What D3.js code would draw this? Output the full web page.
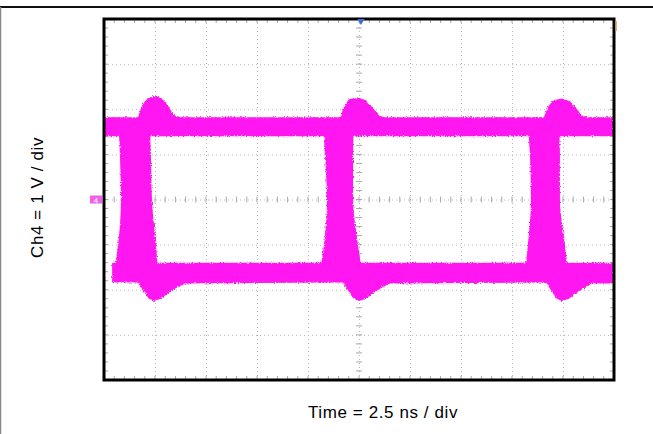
<!DOCTYPE html>
<html>
<head>
<meta charset="utf-8">
<script src="https://cdn.jsdelivr.net/npm/d3@7"></script>
<style>
  body { margin: 0; background: #fff; }
  text { font-family: "Liberation Sans", Arial, sans-serif; }
</style>
</head>
<body>
<div id="chart"></div>
<script>
// scope settings: 10 x 2.5 ns, 8 x 1 V
const timeTicks = d3.range(0, 25.01, 2.5);
const voltTicks = d3.range(-4, 4.01, 1);

// high level band: top edge (with overshoot bumps), bottom edge flat
const highTopT = [0, 1.67, 1.86, 2.11, 2.5, 2.84, 3.14, 3.43, 3.73,
  11.57, 11.76, 12.0, 12.45, 12.84, 13.14, 13.48, 13.73,
  21.57, 21.76, 22.0, 22.45, 22.84, 23.14, 23.43, 23.68, 24.95];
const highTopV = [1.82, 1.82, 2.08, 2.24, 2.30, 2.24, 2.08, 1.86, 1.82,
  1.82, 2.05, 2.22, 2.26, 2.20, 2.05, 1.86, 1.82,
  1.82, 2.05, 2.20, 2.24, 2.18, 2.03, 1.86, 1.82, 1.82];
const highBottomV = 1.40;

// low level band: bottom edge (with undershoot dips), top edge flat
const lowBotT = [0.4, 1.67, 1.95, 2.2, 2.45, 2.79, 3.19, 3.58, 3.97,
  11.72, 12.0, 12.25, 12.5, 12.84, 13.24, 13.63, 14.02,
  21.67, 21.95, 22.2, 22.45, 22.79, 23.19, 23.58, 23.97, 24.95];
const lowBotV = [-1.84, -1.84, -2.04, -2.2, -2.25, -2.2, -2.06, -1.95, -1.86,
  -1.84, -2.04, -2.2, -2.25, -2.2, -2.06, -1.95, -1.86,
  -1.84, -2.04, -2.2, -2.25, -2.2, -2.06, -1.95, -1.86, -1.86];
const lowTopV = -1.40;

// transitions: left/right time of the edge at each voltage
const edgeVolts = [1.6, 1.0, 0, -1.0, -1.6];
const edgeLeft = [
  [0.72, 0.78, 0.83, 0.69, 0.49],
  [10.74, 10.83, 10.93, 10.78, 10.59],
  [20.78, 20.88, 20.93, 20.78, 20.64]
];
const edgeRight = [
  [2.25, 2.30, 2.35, 2.55, 2.65],
  [12.25, 12.21, 12.21, 12.45, 12.65],
  [22.30, 22.35, 22.35, 22.60, 22.75]
];

const W = 653, H = 434;
const plot = { left: 104, right: 614, top: 19, bottom: 380 };
const traceColor = '#ff14f0';

const svg = d3.select('#chart').append('svg')
  .attr('width', W).attr('height', H);

// page frame lines
svg.append('line').attr('x1', 0).attr('x2', W).attr('y1', 7).attr('y2', 7)
  .attr('stroke', '#111').attr('stroke-width', 2);
svg.append('line').attr('x1', 0.5).attr('x2', 0.5).attr('y1', 7).attr('y2', H)
  .attr('stroke', '#888').attr('stroke-width', 1.5);

const x = d3.scaleLinear().domain([0, 25]).range([plot.left, plot.right]);
const y = d3.scaleLinear().domain([-4, 4]).range([plot.bottom, plot.top]);
const pw = plot.right - plot.left, ph = plot.bottom - plot.top;

// noise filter for the fuzzy persistence look
const defs = svg.append('defs');
const f = defs.append('filter').attr('id', 'fuzz')
  .attr('x', '-5%').attr('y', '-5%').attr('width', '110%').attr('height', '110%');
f.append('feTurbulence').attr('type', 'fractalNoise')
  .attr('baseFrequency', 0.9).attr('numOctaves', 2).attr('seed', 3).attr('result', 'n');
f.append('feDisplacementMap').attr('in', 'SourceGraphic').attr('in2', 'n')
  .attr('scale', 3.5).attr('xChannelSelector', 'R').attr('yChannelSelector', 'G');

// graticule
const grid = svg.append('g').attr('class', 'grid');
grid.append('g')
  .attr('transform', `translate(0,${plot.bottom})`)
  .call(d3.axisBottom(x).tickValues(timeTicks.slice(1, -1)).tickSize(-ph).tickFormat(''));
grid.append('g')
  .attr('transform', `translate(${plot.left},0)`)
  .call(d3.axisLeft(y).tickValues(voltTicks.slice(1, -1)).tickSize(-pw).tickFormat(''));
grid.selectAll('.domain').remove();
grid.selectAll('line')
  .attr('stroke', '#b8b8b8').attr('stroke-width', 1)
  .attr('stroke-dasharray', '1,3');

// minor ticks on centre lines and frame
const minorT = d3.range(0, 25.01, 0.5);
const minorV = d3.range(-4, 4.01, 0.2);
const minor = svg.append('g').attr('stroke', '#a8a8a8').attr('stroke-width', 1);
[[x(12.5), 3], [plot.left, 4], [plot.right, -4]].forEach(([px, len]) => {
  minor.selectAll(null).data(minorV).enter().append('line')
    .attr('x1', len > 0 && px !== plot.left ? px - len : px)
    .attr('x2', px + len)
    .attr('y1', d => y(d)).attr('y2', d => y(d));
});
[[y(0), 3], [plot.bottom, -4], [plot.top, 4]].forEach(([py, len]) => {
  minor.selectAll(null).data(minorT).enter().append('line')
    .attr('y1', len > 0 && py !== plot.top ? py - len : py)
    .attr('y2', py + len)
    .attr('x1', d => x(d)).attr('x2', d => x(d));
});

// trace
const trace = svg.append('g').attr('filter', 'url(#fuzz)')
  .attr('clip-path', 'url(#plotclip)');
defs.append('clipPath').attr('id', 'plotclip').append('rect')
  .attr('x', plot.left + 1).attr('y', plot.top + 1)
  .attr('width', pw - 2).attr('height', ph - 2);

const highArea = d3.area()
  .x((d, i) => x(highTopT[i]))
  .y0(() => y(highBottomV))
  .y1((d, i) => y(highTopV[i]));
trace.append('path').datum(highTopT).attr('d', highArea).attr('fill', traceColor);

const lowArea = d3.area()
  .x((d, i) => x(lowBotT[i]))
  .y0(() => y(lowTopV))
  .y1((d, i) => y(lowBotV[i]));
trace.append('path').datum(lowBotT).attr('d', lowArea).attr('fill', traceColor);

edgeLeft.forEach((lefts, k) => {
  const edge = d3.area()
    .y((d, i) => y(edgeVolts[i]))
    .x0((d, i) => x(lefts[i]))
    .x1((d, i) => x(edgeRight[k][i]))
    .curve(d3.curveMonotoneY);
  trace.append('path').datum(edgeVolts).attr('d', edge).attr('fill', traceColor);
});

// plot frame
svg.append('rect')
  .attr('x', plot.left).attr('y', plot.top)
  .attr('width', pw).attr('height', ph)
  .attr('fill', 'none').attr('stroke', '#000').attr('stroke-width', 3);

// trigger position marker
svg.append('path')
  .attr('d', d3.symbol(d3.symbolTriangle, 22)())
  .attr('transform', `translate(${x(12.5) + 2},${plot.top + 2}) rotate(180)`)
  .attr('fill', '#3b6fd6');

// trigger level marker on right edge
svg.append('line')
  .attr('x1', plot.right + 2).attr('x2', plot.right + 2)
  .attr('y1', plot.top + 2).attr('y2', plot.top + 12)
  .attr('stroke', '#c9965a').attr('stroke-width', 1.5);

// ground marker for Ch4
svg.append('rect')
  .attr('x', plot.left - 14).attr('y', y(0) - 4)
  .attr('width', 12).attr('height', 8)
  .attr('fill', '#f060e8');
svg.append('text')
  .attr('x', plot.left - 8).attr('y', y(0) + 3)
  .attr('text-anchor', 'middle')
  .style('font-size', '8px').style('fill', '#fff')
  .text('4');

// axis titles
svg.append('text')
  .attr('transform', `translate(43,${y(0) - 2}) rotate(-90)`)
  .attr('text-anchor', 'middle')
  .style('font-size', '17px').style('letter-spacing', '0.6px').style('fill', '#000')
  .text('Ch4 = 1 V / div');

svg.append('text')
  .attr('x', 383).attr('y', 418)
  .attr('text-anchor', 'middle')
  .style('font-size', '17px').style('letter-spacing', '0.6px').style('fill', '#000')
  .text('Time = 2.5 ns / div');
</script>
</body>
</html>
